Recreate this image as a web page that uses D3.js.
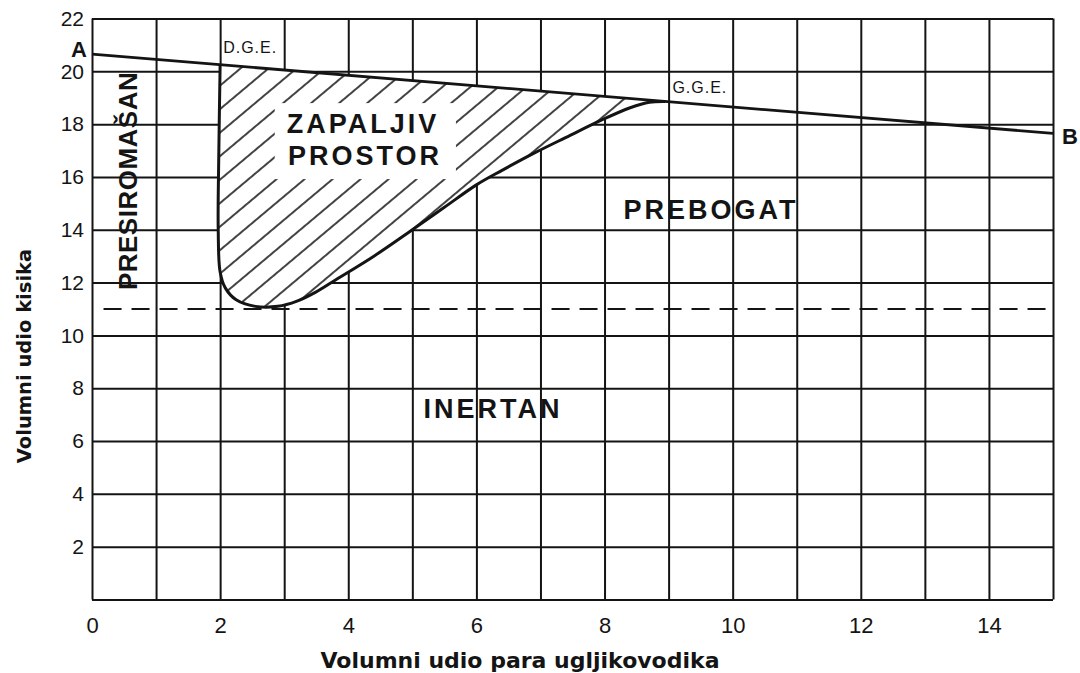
<!DOCTYPE html>
<html>
<head>
<meta charset="utf-8">
<script src="https://cdn.jsdelivr.net/npm/d3@7"></script>
<style>
  html, body { margin: 0; padding: 0; background: #fff; }
</style>
</head>
<body>
<svg id="chart" width="1080" height="673"></svg>
<script>
// axis ticks (volume % hydrocarbon vapour on x, volume % oxygen on y)
const xTicks = [0, 2, 4, 6, 8, 10, 12, 14];
const yTicks = [2, 4, 6, 8, 10, 12, 14, 16, 18, 20, 22];
const xGridValues = [0, 1, 2, 3, 4, 5, 6, 7, 8, 9, 10, 11, 12, 13, 14, 15];
const yGridValues = [0, 2, 4, 6, 8, 10, 12, 14, 16, 18, 20, 22];

// line A-B (air diluted with vapour)
const lineAB = [[0, 20.65], [15, 17.65]];

// boundary of the flammable range, from D.G.E. down and round to G.G.E.
const flammableBoundary = [
    [2.0, 20.25], [1.98, 17.0], [1.97, 14.0], [2.0, 12.4], [2.08, 11.8],
    [2.25, 11.35], [2.55, 11.1], [2.9, 11.1], [3.2, 11.3], [3.5, 11.65],
    [3.8, 12.1], [4.4, 13.0], [5.0, 14.0], [5.5, 14.85], [6.0, 15.7],
    [6.4, 16.25], [6.9, 16.9], [7.4, 17.5], [7.95, 18.15], [8.4, 18.62],
    [8.7, 18.83], [8.95, 18.86]
];

// limiting oxygen concentration (dashed)
const inertLimit = 11;
const inertLineX = [0.18, 15];

const W = 1080, H = 673;
const ink = '#141414';
const x = d3.scaleLinear().domain([0, 15]).range([92, 1053]);
const y = d3.scaleLinear().domain([0, 22]).range([599.5, 18.5]);

const svg = d3.select('#chart');
svg.append('rect').attr('width', W).attr('height', H).attr('fill', '#fff');

// hatch pattern
const pat = svg.append('defs').append('pattern')
    .attr('id', 'hatch')
    .attr('patternUnits', 'userSpaceOnUse')
    .attr('width', 18)
    .attr('height', 18)
    .attr('patternTransform', 'rotate(-40)');
pat.append('line')
    .attr('x1', 0).attr('x2', 18)
    .attr('y1', 9).attr('y2', 9)
    .attr('stroke', ink)
    .attr('stroke-width', 1.6);

// grid
const gx = svg.append('g')
    .attr('transform', `translate(0,${y(0)})`)
    .call(d3.axisBottom(x).tickValues(xGridValues).tickSize(-(y(0) - y(22))).tickFormat(''));
gx.select('.domain').remove();
gx.selectAll('line').attr('stroke', ink).attr('stroke-width', 2);

const gy = svg.append('g')
    .attr('transform', `translate(${x(0)},0)`)
    .call(d3.axisLeft(y).tickValues(yGridValues).tickSize(-(x(15) - x(0))).tickFormat(''));
gy.select('.domain').remove();
gy.selectAll('line').attr('stroke', ink).attr('stroke-width', 2);

// tick labels
const ax = svg.append('g')
    .attr('transform', `translate(0,${y(0)})`)
    .call(d3.axisBottom(x).tickValues(xTicks).tickSize(0).tickPadding(18));
ax.select('.domain').remove();
ax.selectAll('text')
    .style('font-family', '"Liberation Sans", Arial, sans-serif')
    .style('font-size', '22px')
    .attr('fill', ink);

const ay = svg.append('g')
    .attr('transform', `translate(${x(0)},0)`)
    .call(d3.axisLeft(y).tickValues(yTicks).tickSize(0).tickPadding(8));
ay.select('.domain').remove();
ay.selectAll('text')
    .style('font-family', '"Liberation Sans", Arial, sans-serif')
    .style('font-size', '21px')
    .attr('fill', ink);

// axis titles
svg.append('text')
    .attr('x', 520)
    .attr('y', 668)
    .attr('text-anchor', 'middle')
    .style('font-family', '"DejaVu Sans", sans-serif')
    .style('font-weight', 'bold')
    .style('font-size', '22px')
    .attr('fill', ink)
    .text('Volumni udio para ugljikovodika');

svg.append('text')
    .attr('transform', 'translate(31,356) rotate(-90)')
    .attr('text-anchor', 'middle')
    .style('font-family', '"DejaVu Sans", sans-serif')
    .style('font-weight', 'bold')
    .style('font-size', '19.5px')
    .attr('fill', ink)
    .text('Volumni udio kisika');

// dashed limiting oxygen line
svg.append('line')
    .attr('x1', x(inertLineX[0]))
    .attr('x2', x(inertLineX[1]))
    .attr('y1', y(inertLimit))
    .attr('y2', y(inertLimit))
    .attr('stroke', ink)
    .attr('stroke-width', 2)
    .attr('stroke-dasharray', '18 10');

// flammable region
const boundaryLine = d3.line()
    .x(d => x(d[0]))
    .y(d => y(d[1]))
    .curve(d3.curveCatmullRom.alpha(0.5));

svg.append('path').attr('d', boundaryLine(flammableBoundary) + 'Z').attr('fill', '#fff');
svg.append('path').attr('d', boundaryLine(flammableBoundary) + 'Z').attr('fill', 'url(#hatch)');

const bigFont = '"Liberation Sans", Arial, Helvetica, sans-serif';

const zapBox = svg.append('rect').attr('fill', '#fff');
const zap = svg.append('text')
    .attr('text-anchor', 'middle')
    .style('font-family', bigFont)
    .style('font-weight', 'bold')
    .style('font-size', '27px')
    .style('letter-spacing', '3px')
    .attr('fill', ink);
zap.append('tspan').attr('x', x(4.23)).attr('y', y(17.66)).text('ZAPALJIV');
zap.append('tspan').attr('x', x(4.26)).attr('y', y(16.45)).text('PROSTOR');
const bb = zap.node().getBBox();
zapBox.attr('x', bb.x - 12).attr('y', bb.y - 6)
    .attr('width', bb.width + 26).attr('height', bb.height + 14);

svg.append('path')
    .attr('d', boundaryLine(flammableBoundary))
    .attr('fill', 'none')
    .attr('stroke', ink)
    .attr('stroke-width', 3);

svg.append('line')
    .attr('x1', x(lineAB[0][0])).attr('y1', y(lineAB[0][1]))
    .attr('x2', x(lineAB[1][0])).attr('y2', y(lineAB[1][1]))
    .attr('stroke', ink)
    .attr('stroke-width', 2.8);

// region labels
const regionLabels = [
    { text: 'PREBOGAT', at: [9.66, 14.41] },
    { text: 'INERTAN', at: [6.26, 6.87] }
];
svg.selectAll('text.region')
    .data(regionLabels)
    .join('text')
    .attr('class', 'region')
    .attr('x', d => x(d.at[0]))
    .attr('y', d => y(d.at[1]))
    .attr('text-anchor', 'middle')
    .style('font-family', bigFont)
    .style('font-weight', 'bold')
    .style('font-size', '27px')
    .style('letter-spacing', '3px')
    .attr('fill', ink)
    .text(d => d.text);

svg.append('text')
    .attr('transform', `translate(${x(0.56)},${y(15.85)}) rotate(-90)`)
    .attr('text-anchor', 'middle')
    .attr('dominant-baseline', 'central')
    .style('font-family', bigFont)
    .style('font-weight', 'bold')
    .style('font-size', '26px')
    .style('letter-spacing', '0.5px')
    .attr('fill', ink)
    .text('PRESIROMAŠAN');

// end points and limits
svg.append('text')
    .attr('x', x(lineAB[0][0]) - 13)
    .attr('y', y(lineAB[0][1]) + 3)
    .attr('text-anchor', 'middle')
    .style('font-family', bigFont)
    .style('font-weight', 'bold')
    .style('font-size', '22px')
    .attr('fill', ink)
    .text('A');

svg.append('text')
    .attr('x', x(lineAB[1][0]) + 9)
    .attr('y', y(lineAB[1][1]) + 11)
    .style('font-family', bigFont)
    .style('font-weight', 'bold')
    .style('font-size', '22px')
    .attr('fill', ink)
    .text('B');

const limitLabels = [
    { text: 'D.G.E.', at: flammableBoundary[0], dx: 3, dy: -12 },
    { text: 'G.G.E.', at: flammableBoundary[flammableBoundary.length - 1], dx: 7, dy: -8 }
];
svg.selectAll('text.limit')
    .data(limitLabels)
    .join('text')
    .attr('class', 'limit')
    .attr('x', d => x(d.at[0]) + d.dx)
    .attr('y', d => y(d.at[1]) + d.dy)
    .style('font-family', bigFont)
    .style('font-size', '16px')
    .style('letter-spacing', '1px')
    .attr('fill', ink)
    .text(d => d.text);
</script>
</body>
</html>
